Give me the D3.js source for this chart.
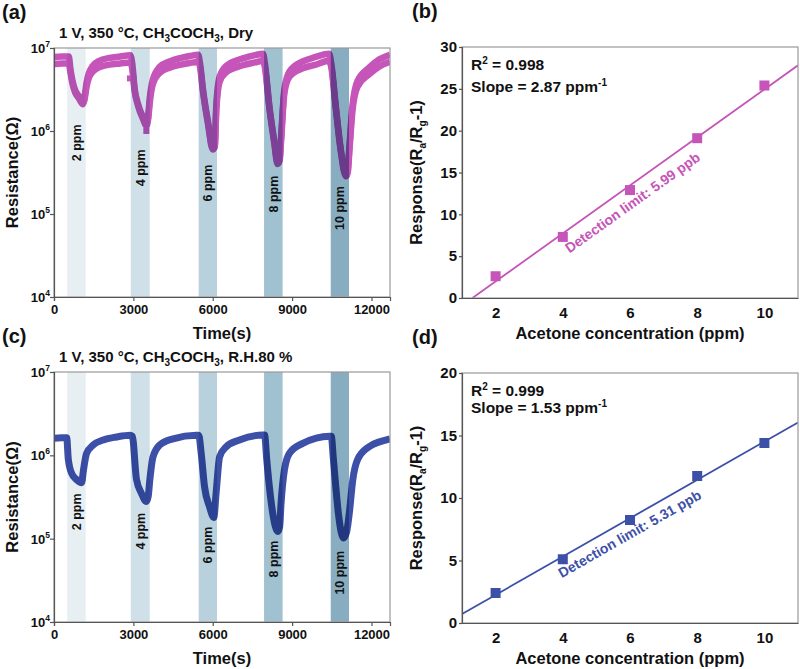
<!DOCTYPE html>
<html><head><meta charset="utf-8">
<script src="https://cdn.jsdelivr.net/npm/d3@7"></script>
<style>
body{margin:0;background:#fff}
svg text{font-family:"Liberation Sans",Arial,Helvetica,sans-serif;font-weight:bold;fill:#111}
</style></head><body>
<svg id="c" width="800" height="669"></svg>
<script>
// ---------- DATA ----------
const bandStart = [500, 2900, 5470, 7940, 10460];
const bandEnd   = [1200, 3620, 6160, 8640, 11150];
const bandLabels = ["2 ppm", "4 ppm", "6 ppm", "8 ppm", "10 ppm"];
const labelResA = [7.2e5, 3.6e5, 2.36e5, 1.74e5, 1.18e5];
const labelResC = [2.1e5, 1.23e5, 8.4e4, 5.7e4, 3.9e4];
const timeTicks = [0, 3000, 6000, 9000, 12000];
const resExponents = [4, 5, 6, 7];

// (a) dry: two overlapping measurement traces
const timeA = [0, 300, 560, 620, 700, 800, 950, 1080, 1150, 1230, 1320, 1450, 1600, 1800, 2100, 2500, 2880,
  2950, 3050, 3180, 3370, 3490, 3560, 3620, 3740, 3990, 4370, 4800, 5130, 5450,
  5520, 5630, 5820, 6000, 6080, 6130, 6260, 6510, 7140, 7600, 7900,
  7970, 8140, 8330, 8450, 8530, 8580, 8710, 8900, 9400, 9900, 10400,
  10480, 10650, 10840, 11030, 11100, 11160, 11280, 11470, 11910, 12300, 12700];
const resAUpper = [7.8e6, 7.9e6, 7.9e6, 5.6e6, 4.0e6, 3.1e6, 2.6e6, 2.2e6, 2.5e6, 3.8e6, 5.0e6, 6.0e6, 6.7e6, 7.2e6, 7.6e6, 7.9e6, 8.2e6,
  6.8e6, 3.2e6, 2.1e6, 1.45e6, 1.2e6, 1.5e6, 2.5e6, 4.2e6, 5.9e6, 6.9e6, 7.6e6, 8.0e6, 8.3e6,
  6.5e6, 3.2e6, 1.3e6, 6.3e5, 6.8e5, 1.9e6, 4.5e6, 6.1e6, 7.5e6, 8.2e6, 8.5e6,
  6.5e6, 2.0e6, 7.4e5, 4.2e5, 4.6e5, 8.0e5, 3.2e6, 5.2e6, 6.9e6, 7.8e6, 8.5e6,
  6.5e6, 2.0e6, 6.0e5, 3.0e5, 3.3e5, 6.0e5, 2.0e6, 4.0e6, 5.8e6, 7.3e6, 8.3e6];
const resALower = [6.4e6, 6.5e6, 6.5e6, 5.1e6, 3.7e6, 2.9e6, 2.45e6, 2.1e6, 2.35e6, 3.4e6, 4.4e6, 5.1e6, 5.6e6, 6.0e6, 6.3e6, 6.5e6, 6.7e6,
  5.8e6, 3.0e6, 2.0e6, 1.38e6, 1.15e6, 1.4e6, 2.2e6, 3.7e6, 5.0e6, 5.8e6, 6.3e6, 6.6e6, 6.8e6,
  5.9e6, 3.0e6, 1.22e6, 6.0e5, 6.4e5, 1.65e6, 3.9e6, 5.1e6, 6.2e6, 6.7e6, 7.0e6,
  5.9e6, 1.9e6, 7.0e5, 4.0e5, 4.4e5, 7.4e5, 2.9e6, 4.5e6, 5.7e6, 6.3e6, 7.0e6,
  5.9e6, 1.9e6, 5.7e5, 2.85e5, 3.1e5, 5.5e5, 1.75e6, 3.4e6, 4.8e6, 6.0e6, 6.8e6];
const outlierTimeA = [2870, 3490];
const outlierResA = [4.3e6, 1.0e6];

// (c) R.H. 80 %
const timeC = [0, 300, 480, 540, 665, 855, 1045, 1110, 1230, 1480, 1860, 2360, 2880,
  2960, 3115, 3305, 3490, 3560, 3620, 3740, 3995, 4500, 5380,
  5470, 5565, 5690, 5880, 6040, 6130, 6260, 6510, 7010, 7890,
  7960, 8040, 8140, 8270, 8460, 8530, 8580, 8710, 8900, 9400, 10420,
  10480, 10560, 10630, 10750, 10940, 11060, 11160, 11290, 11470, 11910, 12300, 12700];
const resC = [1.6e6, 1.62e6, 1.62e6, 9.0e5, 6.1e5, 5.1e5, 4.7e5, 6.5e5, 1.05e6, 1.33e6, 1.53e6, 1.66e6, 1.74e6,
  1.7e6, 5.2e5, 3.5e5, 2.8e5, 3.2e5, 5.0e5, 9.5e5, 1.33e6, 1.58e6, 1.74e6,
  1.74e6, 1.05e6, 4.2e5, 2.4e5, 1.8e5, 3.6e5, 9.6e5, 1.27e6, 1.53e6, 1.75e6,
  1.75e6, 9.0e5, 4.2e5, 2.0e5, 1.22e5, 1.4e5, 2.6e5, 6.7e5, 1.06e6, 1.39e6, 1.7e6,
  1.7e6, 9.0e5, 5.0e5, 2.0e5, 1.02e5, 1.2e5, 2.0e5, 5.0e5, 8.8e5, 1.27e6, 1.45e6, 1.58e6];

// (b), (d) calibration
const concentrations = [2, 4, 6, 8, 10];
const responseDry = [2.6, 7.3, 12.9, 19.1, 25.4];
const responseWet = [2.4, 5.1, 8.24, 11.76, 14.4];
const concTicks = [2, 4, 6, 8, 10];
const respTicksDry = [0, 5, 10, 15, 20, 25, 30];
const respTicksWet = [0, 5, 10, 15, 20];

// ---------- STYLE ----------
const MAGENTA = "#c655b9";
const BLUE = "#3d50a8";
const bandColors = ["#e7eff3", "#d0e0e8", "#b8d1dd", "#a0c1d0", "#88adc0"];
const svg = d3.select("#c");

function styleAxis(g, fs) {
  g.select(".domain").attr("stroke", "#555").attr("stroke-width", 1.2);
  g.selectAll(".tick line").attr("stroke", "#555").attr("stroke-width", 1.2);
  g.selectAll(".tick text").attr("font-size", fs).attr("fill", "#111");
}

function timePanel(o) {
  const x = d3.scaleLinear().domain([0, 12700]).range([o.left, o.right]);
  const y = d3.scaleLog().domain([1e4, 1e7]).range([o.bottom, o.top]);
  const g = svg.append("g");
  g.append("clipPath").attr("id", o.id).append("rect")
    .attr("x", o.left).attr("y", o.top).attr("width", o.right - o.left).attr("height", o.bottom - o.top);
  const plot = g.append("g").attr("clip-path", `url(#${o.id})`);
  const line = d3.line().x(d => x(d[0])).y(d => y(d[1])).curve(d3.curveMonotoneX);
  o.traces.forEach(tr => {
    plot.append("path").datum(d3.zip(o.time, tr)).attr("d", line)
      .attr("fill", "none").attr("stroke", o.color).attr("stroke-width", o.width)
      .attr("stroke-linejoin", "round");
  });
  (o.outT || []).forEach((t, i) => {
    plot.append("rect").attr("x", x(t) - 3).attr("y", y(o.outR[i]) - 3)
      .attr("width", 6).attr("height", 6).attr("fill", o.color);
  });
  bandStart.forEach((s, i) => {
    plot.append("rect").attr("x", x(s)).attr("y", o.top)
      .attr("width", x(bandEnd[i]) - x(s)).attr("height", o.bottom - o.top)
      .attr("fill", bandColors[i]).style("mix-blend-mode", "multiply");
  });
  bandStart.forEach((s, i) => {
    g.append("text")
      .attr("transform", `translate(${x((s + bandEnd[i]) / 2)},${y(o.labelRes[i])}) rotate(-90)`)
      .attr("text-anchor", "middle").attr("dy", "0.36em").attr("font-size", 12.5)
      .text(bandLabels[i]);
  });
  g.append("rect").attr("x", o.left).attr("y", o.top).attr("width", o.right - o.left)
    .attr("height", o.bottom - o.top).attr("fill", "none").attr("stroke", "#999").attr("stroke-width", 1.2);
  const xa = g.append("g").attr("transform", `translate(0,${o.bottom})`)
    .call(d3.axisBottom(x).tickValues(timeTicks).tickSize(4).tickPadding(4).tickFormat(d3.format("d")));
  styleAxis(xa, 13);
  const ya = g.append("g").attr("transform", `translate(${o.left},0)`)
    .call(d3.axisLeft(y).tickValues(resExponents.map(e => Math.pow(10, e))).tickSize(4).tickFormat(""));
  styleAxis(ya, 13);
  resExponents.forEach(e => {
    const t = g.append("text").attr("x", o.left - 4).attr("y", y(Math.pow(10, e)) + 5)
      .attr("text-anchor", "end").attr("font-size", 13);
    t.append("tspan").text("10");
    t.append("tspan").attr("dy", -6).attr("font-size", 8.5).text(e);
  });
  // title
  const ti = g.append("text").attr("x", o.left + 5).attr("y", o.top - 10).attr("font-size", 15);
  o.title.forEach(p => {
    if (p.sub) ti.append("tspan").attr("dy", 4).attr("font-size", 10).text(p.t);
    else ti.append("tspan").attr("dy", p.after ? -4 : 0).text(p.t);
  });
  g.append("text").attr("x", 2).attr("y", o.top - 29).attr("font-size", 20).text(o.letter);
  g.append("text").attr("x", (o.left + o.right) / 2).attr("y", o.bottom + 42)
    .attr("text-anchor", "middle").attr("font-size", 16.5).text("Time(s)");
  g.append("text").attr("transform", `translate(18,${(o.top + o.bottom) / 2}) rotate(-90)`)
    .attr("text-anchor", "middle").attr("font-size", 16.5).text("Resistance(\u03A9)");
}

function calPanel(o) {
  const x = d3.scaleLinear().domain([1, 11]).range([o.left, o.right]);
  const y = d3.scaleLinear().domain([0, o.ymax]).range([o.bottom, o.top]);
  const g = svg.append("g");
  g.append("clipPath").attr("id", o.id).append("rect")
    .attr("x", o.left).attr("y", o.top).attr("width", o.right - o.left).attr("height", o.bottom - o.top);
  // least squares fit
  const mx = d3.mean(concentrations), my = d3.mean(o.resp);
  const slope = d3.sum(concentrations, (c, i) => (c - mx) * (o.resp[i] - my)) / d3.sum(concentrations, c => (c - mx) ** 2);
  const icpt = my - slope * mx;
  const fit = v => slope * v + icpt;
  const xs = Math.max(1, -icpt / slope);
  g.append("g").attr("clip-path", `url(#${o.id})`).append("line")
    .attr("x1", x(xs)).attr("y1", y(fit(xs))).attr("x2", x(11)).attr("y2", y(fit(11)))
    .attr("stroke", o.color).attr("stroke-width", 1.8);
  g.selectAll(".pt").data(concentrations).enter().append("rect")
    .attr("x", c => x(c) - 5).attr("y", (c, i) => y(o.resp[i]) - 5)
    .attr("width", 10).attr("height", 10).attr("fill", o.color);
  g.append("rect").attr("x", o.left).attr("y", o.top).attr("width", o.right - o.left)
    .attr("height", o.bottom - o.top).attr("fill", "none").attr("stroke", "#999").attr("stroke-width", 1.2);
  const xa = g.append("g").attr("transform", `translate(0,${o.bottom})`)
    .call(d3.axisBottom(x).tickValues(concTicks).tickSize(0).tickPadding(9).tickFormat(d3.format("d")));
  styleAxis(xa, 15);
  const ya = g.append("g").attr("transform", `translate(${o.left},0)`)
    .call(d3.axisLeft(y).tickValues(o.yticks).tickSize(3).tickPadding(2).tickFormat(d3.format("d")));
  styleAxis(ya, 15);
  // annotation
  const r2 = g.append("text").attr("x", o.left + 9).attr("y", o.top + o.r2dy).attr("font-size", 15.5);
  r2.append("tspan").text("R");
  r2.append("tspan").attr("dy", -6).attr("font-size", 10).text("2");
  r2.append("tspan").attr("dy", 6).text(" = " + o.r2);
  const sl = g.append("text").attr("x", o.left + 9).attr("y", o.top + o.r2dy + o.slDy).attr("font-size", 15.5);
  sl.append("tspan").text("Slope = " + o.slopeText + " ppm");
  sl.append("tspan").attr("dy", -6).attr("font-size", 10).text("-1");
  const ang = Math.atan2(y(fit(11)) - y(fit(1)), x(11) - x(1)) * 180 / Math.PI;
  g.append("text")
    .attr("transform", `translate(${x(o.detX)},${y(fit(o.detX)) + o.detOff}) rotate(${ang})`)
    .attr("font-size", 14).style("fill", o.color).text(o.detText);
  g.append("text").attr("x", o.left - 50).attr("y", o.top - 29).attr("font-size", 20).text(o.letter);
  g.append("text").attr("x", (o.left + o.right) / 2).attr("y", o.bottom + 41)
    .attr("text-anchor", "middle").attr("font-size", 16.5).text("Acetone concentration (ppm)");
  const yl = g.append("text").attr("transform", `translate(422,${(o.top + o.bottom) / 2}) rotate(-90)`)
    .attr("text-anchor", "middle").attr("font-size", 16.5);
  yl.append("tspan").text("Response(R");
  yl.append("tspan").attr("dy", 4).attr("font-size", 10).text("a");
  yl.append("tspan").attr("dy", -4).text("/R");
  yl.append("tspan").attr("dy", 4).attr("font-size", 10).text("g");
  yl.append("tspan").attr("dy", -4).text("-1)");
}

const titleDry = [{t: "1 V, 350 \u00B0C, CH"}, {t: "3", sub: true}, {t: "COCH", after: true}, {t: "3", sub: true}, {t: ", Dry", after: true}];
const titleWet = [{t: "1 V, 350 \u00B0C, CH"}, {t: "3", sub: true}, {t: "COCH", after: true}, {t: "3", sub: true}, {t: ", R.H.80 %", after: true}];

timePanel({id: "ca", left: 54, right: 390, top: 48, bottom: 297, time: timeA, traces: [resAUpper, resALower],
  color: MAGENTA, width: 6.5, outT: outlierTimeA, outR: outlierResA, labelRes: labelResA, title: titleDry, letter: "(a)"});
timePanel({id: "cc", left: 54, right: 390, top: 372, bottom: 622, time: timeC, traces: [resC],
  color: BLUE, width: 7, labelRes: labelResC, title: titleWet, letter: "(c)"});
calPanel({id: "cb", left: 462, right: 798, top: 47, bottom: 298, ymax: 30, yticks: respTicksDry, resp: responseDry,
  color: MAGENTA, r2: "0.998", slopeText: "2.87", r2dy: 23, slDy: 22, detX: 4.2, detOff: 25,
  detText: "Detection limit: 5.99 ppb", letter: "(b)"});
calPanel({id: "cd", left: 462, right: 798, top: 373, bottom: 623, ymax: 20, yticks: respTicksWet, resp: responseWet,
  color: BLUE, r2: "0.999", slopeText: "1.53", r2dy: 23, slDy: 17, detX: 3.97, detOff: 21,
  detText: "Detection limit: 5.31 ppb", letter: "(d)"});
</script>
</body></html>
